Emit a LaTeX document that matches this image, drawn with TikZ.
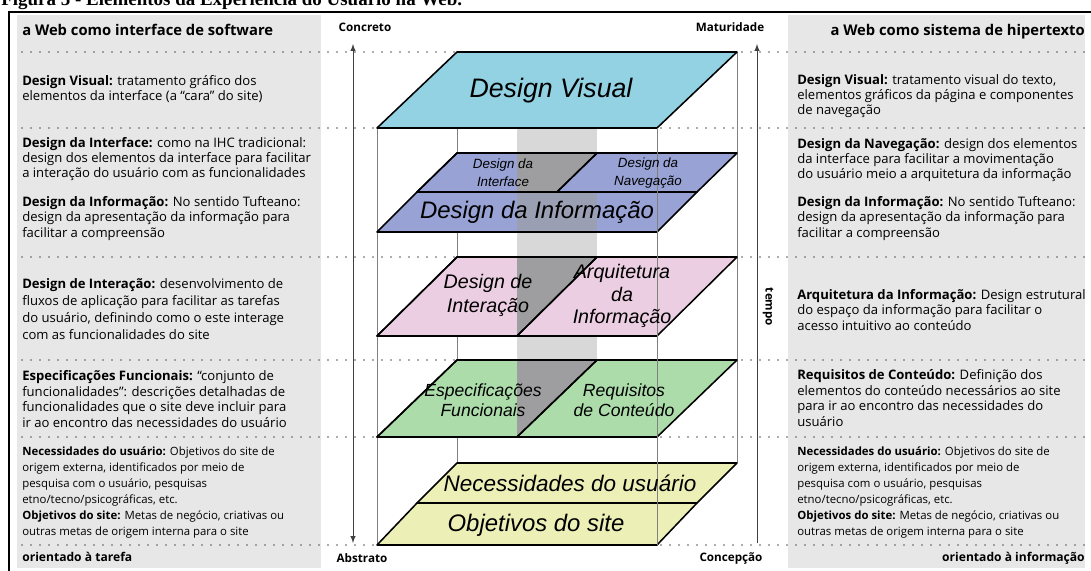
\documentclass[tikz,border=0pt]{standalone}
\usepackage{fontspec}
\setmainfont{Open Sans}
\newfontfamily\planefont{Liberation Sans}
\newfontfamily\capfont{Liberation Serif}

\definecolor{panelgray}{RGB}{231,231,231}
\definecolor{colgray}{RGB}{216,216,216}
\definecolor{darkcol}{RGB}{158,158,160}
\definecolor{visualc}{RGB}{146,210,226}
\definecolor{purplec}{RGB}{152,162,212}
\definecolor{pinkc}{RGB}{236,206,226}
\definecolor{greenc}{RGB}{172,220,170}
\definecolor{yellowc}{RGB}{236,240,182}

\begin{document}
\begin{tikzpicture}[x=0.025cm,y=-0.025cm,
	dotline/.style={draw=black!65, line width=1.3pt, line cap=round, dash pattern=on 0pt off 6.4pt},
	plane/.style={draw=black, line width=1.1pt, line join=round},
	boxline/.style={draw=black!50, line width=0.6pt},
	axisline/.style={draw=black!75, line width=0.7pt, >=latex},
	txt/.style={anchor=base west, align=left, inner sep=0pt, font=\fontsize{9.3}{11}\selectfont},
	smalltxt/.style={anchor=base west, align=left, inner sep=0pt, font=\fontsize{8.1}{11.3}\selectfont},
	head/.style={inner sep=0pt, font=\fontsize{10.5}{12}\selectfont\bfseries},
	foot/.style={inner sep=0pt, font=\fontsize{8.6}{10}\selectfont\bfseries},
	midlbl/.style={inner sep=0pt, font=\fontsize{8.3}{10}\selectfont\bfseries},
	ptxt/.style={inner sep=0pt, align=center, font=\planefont\itshape}]
	\useasboundingbox (0,0) rectangle (1091,571);

	\node[anchor=base west, inner sep=0pt, font=\capfont\bfseries\fontsize{13.5}{15}\selectfont] (caption) at (1,6) {Figura 5 - Elementos da Experiência do Usuário na Web.};

	\draw[line width=1.6pt] (9,571) -- (9,12) -- (1091,12);
	\fill[panelgray] (17,15) rectangle (321,568);
	\fill[panelgray] (788,15) rectangle (1085,568);

	\foreach \y in {52,128,257,360,437,545}
		\draw[dotline] (22,\y) -- (1085,\y);

	\fill[colgray] (517,128) rectangle (597,437);
	\draw[boxline] (457,128) -- (457,463);
	\draw[boxline] (737,52) -- (737,463);
	\draw[boxline] (377,128) -- (377,545);

	\filldraw[plane, fill=visualc] (457,52) -- (737,52) -- (657,128) -- (377,128) -- cycle;

	\filldraw[plane, fill=purplec] (457,153) -- (597,153) -- (557,192) -- (417,192) -- cycle;
	\fill[darkcol] (517,153) -- (597,153) -- (557,192) -- (517,192) -- cycle;
	\filldraw[plane, fill=purplec] (597,153) -- (737,153) -- (697,192) -- (557,192) -- cycle;
	\filldraw[plane, fill=purplec] (417,192) -- (697,192) -- (657,232) -- (377,232) -- cycle;
	\fill[darkcol, fill opacity=0.6] (517,193) rectangle (597,231);

	\filldraw[plane, fill=pinkc] (457,257) -- (597,257) -- (517,336) -- (377,336) -- cycle;
	\fill[darkcol] (517,257) -- (597,257) -- (517,336) -- cycle;
	\filldraw[plane, fill=pinkc] (597,257) -- (737,257) -- (657,336) -- (517,336) -- cycle;

	\filldraw[plane, fill=greenc] (457,360) -- (597,360) -- (517,437) -- (377,437) -- cycle;
	\fill[darkcol] (517,360) -- (597,360) -- (517,437) -- cycle;
	\filldraw[plane, fill=greenc] (597,360) -- (737,360) -- (657,437) -- (517,437) -- cycle;

	\filldraw[plane, fill=yellowc] (457,463) -- (737,463) -- (697,503) -- (417,503) -- cycle;
	\filldraw[plane, fill=yellowc] (417,503) -- (697,503) -- (657,545) -- (377,545) -- cycle;

	\draw[plane, fill=none] (457,153) -- (597,153) -- (557,192) -- (417,192) -- cycle;
	\draw[plane, fill=none] (457,257) -- (597,257) -- (517,336) -- (377,336) -- cycle;
	\draw[plane, fill=none] (457,360) -- (597,360) -- (517,437) -- (377,437) -- cycle;
	\draw[boxline] (657,128) -- (657,545);

	\node[ptxt, font=\planefont\itshape\fontsize{19}{22}\selectfont] (visual) at (551,91) {Design Visual};
	\node[ptxt, font=\planefont\itshape\fontsize{9.5}{13}\selectfont] (interface) at (503,173) {Design da\\Interface};
	\node[ptxt, font=\planefont\itshape\fontsize{9.5}{13}\selectfont] (navegacao) at (648,173) {Design da\\Navegação};
	\node[ptxt, font=\planefont\itshape\fontsize{17}{20}\selectfont] (informacao) at (537,212) {Design da Informação};
	\node[ptxt, font=\planefont\itshape\fontsize{14}{17}\selectfont] (interacao) at (488,295) {Design de\\Interação};
	\node[ptxt, font=\planefont\itshape\fontsize{14}{16}\selectfont] (arquitetura) at (622,296) {Arquitetura\\da\\Informação};
	\node[ptxt, font=\planefont\itshape\fontsize{12.5}{14}\selectfont] (especificacoes) at (483,400) {Especificações\\Funcionais};
	\node[ptxt, font=\planefont\itshape\fontsize{12.5}{14}\selectfont] (requisitos) at (624,400) {Requisitos\\de Conteúdo};
	\node[ptxt, font=\planefont\itshape\fontsize{16}{19}\selectfont] (necessidades) at (570,483) {Necessidades do usuário};
	\node[ptxt, font=\planefont\itshape\fontsize{17}{20}\selectfont] (objetivos) at (536,525) {Objetivos do site};

	\coordinate (cTop) at (353,44);
	\coordinate (cBot) at (353,543);
	\coordinate (tTop) at (757,44);
	\coordinate (tBot) at (757,543);
	\draw[axisline, <->] (cTop) -- (cBot);
	\draw[axisline, ->] (tBot) -- (tTop);
	\node[midlbl] (concreto) at (365,27) {Concreto};
	\node[midlbl] (abstrato) at (362,558) {Abstrato};
	\node[midlbl] (maturidade) at (730,27) {Maturidade};
	\node[midlbl] (concepcao) at (731,558) {Concepção};
	\node[midlbl, rotate=-90] (tempo) at (768,307) {tempo};

	\node[head, anchor=base west] (lhead) at (22,36) {a Web como interface de software};
	\node[txt] (lvisual) at (22,101) {\textbf{Design Visual:} tratamento gráfico dos\\elementos da interface (a “cara” do site)};
	\node[txt] (linterface) at (22,178) {\textbf{Design da Interface:} como na IHC tradicional:\\design dos elementos da interface para facilitar\\a interação do usuário com as funcionalidades};
	\node[txt] (linformacao) at (22,237) {\textbf{Design da Informação:} No sentido Tufteano:\\design da apresentação da informação para\\facilitar a compreensão};
	\node[txt, font=\fontsize{9.3}{12}\selectfont] (linteracao) at (22,339) {\textbf{Design de Interação:} desenvolvimento de\\fluxos de aplicação para facilitar as tarefas\\do usuário, definindo como o este interage\\com as funcionalidades do site};
	\node[txt] (lespec) at (22,427) {\textbf{Especificações Funcionais:} “conjunto de\\funcionalidades”: descrições detalhadas de\\funcionalidades que o site deve incluir para\\ir ao encontro das necessidades do usuário};
	\node[smalltxt] (lnecess) at (22,535) {\textbf{Necessidades do usuário:} Objetivos do site de\\origem externa, identificados por meio de\\pesquisa com o usuário, pesquisas\\etno/tecno/psicográficas, etc.\\\textbf{Objetivos do site:} Metas de negócio, criativas ou\\outras metas de origem interna para o site};
	\node[foot, anchor=base west] (lfoot) at (22,561) {orientado à tarefa};

	\node[head, anchor=base east] (rhead) at (1085,36) {a Web como sistema de hipertexto};
	\node[txt] (rvisual) at (797,115) {\textbf{Design Visual:} tratamento visual do texto,\\elementos gráficos da página e componentes\\de navegação};
	\node[txt] (rnavegacao) at (797,179) {\textbf{Design da Navegação:} design dos elementos\\da interface para facilitar a movimentação\\do usuário meio a arquitetura da informação};
	\node[txt] (rinformacao) at (797,237) {\textbf{Design da Informação:} No sentido Tufteano:\\design da apresentação da informação para\\facilitar a compreensão};
	\node[txt] (rarquitetura) at (797,330) {\textbf{Arquitetura da Informação:} Design estrutural\\do espaço da informação para facilitar o\\acesso intuitivo ao conteúdo};
	\node[txt] (rrequisitos) at (797,426) {\textbf{Requisitos de Conteúdo:} Definição dos\\elementos do conteúdo necessários ao site\\para ir ao encontro das necessidades do\\usuário};
	\node[smalltxt] (rnecess) at (797,535) {\textbf{Necessidades do usuário:} Objetivos do site de\\origem externa, identificados por meio de\\pesquisa com o usuário, pesquisas\\etno/tecno/psicográficas, etc.\\\textbf{Objetivos do site:} Metas de negócio, criativas ou\\outras metas de origem interna para o site};
	\node[foot, anchor=base east] (rfoot) at (1085,561) {orientado à informação};
\end{tikzpicture}
\end{document}
